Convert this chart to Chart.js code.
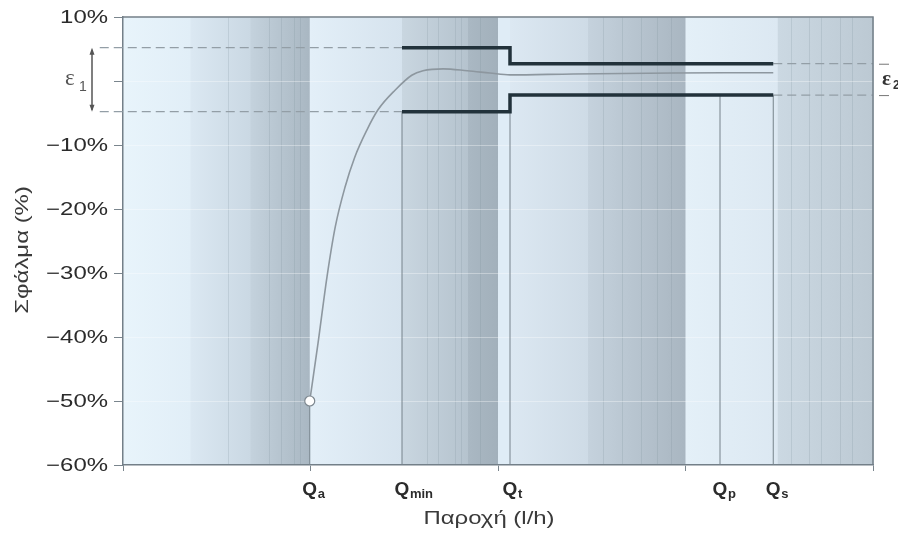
<!DOCTYPE html>
<html>
<head>
<meta charset="utf-8">
<script src="https://cdn.jsdelivr.net/npm/chart.js@4.4.0/dist/chart.umd.min.js"></script>
<style>
  body { margin: 0; background: #fff; }
  #wrap { width: 898px; height: 535px; }
</style>
</head>
<body>
<div id="wrap"><canvas id="errChart" width="898" height="535"></canvas></div>
<script>
// flow positions on a 0..100 axis (no real units on the picture)
var qNames = ['a', 'min', 't', 'p', 's'];
var qPos = [24.9, 37.2, 51.6, 79.6, 86.7];
// how high each thin vertical marker goes (%)
var qLineTop = [-50, -4.8, -2.2, -2.2, -2.2];

// error curve of the meter (%)
var curveX = [24.9, 26.0, 27.2, 28.3, 29.6, 30.9, 32.5, 34.0, 36.3, 38.5, 40.0, 42.7, 45.9, 48.9, 51.6, 60, 70, 80, 86.7];
var curveY = [-50, -41, -30.6, -22.8, -16.6, -11.9, -7.7, -4.5, -1.4, 0.9, 1.6, 1.9, 1.6, 1.25, 0.95, 1.1, 1.2, 1.3, 1.3];

// maximum permissible error limits
var upperX = [37.2, 51.6, 51.6, 86.7];
var upperY = [5.2, 5.2, 2.7, 2.7];
var lowerX = [37.2, 51.6, 51.6, 86.7];
var lowerY = [-4.8, -4.8, -2.2, -2.2];

// dashed guides for e1 (left) and e2 (right)
var dashLeftX = [-3.1, 37.2];
var dashRightX = [86.7, 100];

var yMin = -60, yMax = 10, yStep = 10;

function pts(xs, ys) {
    var out = [];
    for (var i = 0; i < xs.length; i++) out.push({x: xs[i], y: ys[i]});
    return out;
}

var datasets = [];
datasets.push({
    label: 'curve',
    data: pts(curveX, curveY),
    borderColor: '#8d979f',
    borderWidth: 1.6,
    cubicInterpolationMode: 'monotone',
    pointRadius: function(c) { return c.dataIndex === 0 ? 5 : 0; },
    pointBackgroundColor: '#ffffff',
    pointBorderColor: '#7d878f',
    pointBorderWidth: 1.2
});
datasets.push({ label: 'upper', data: pts(upperX, upperY), borderColor: '#22323b', borderWidth: 3.5, pointRadius: 0 });
datasets.push({ label: 'lower', data: pts(lowerX, lowerY), borderColor: '#22323b', borderWidth: 3.5, pointRadius: 0 });
var dashStyle = { borderColor: '#939ea6', borderWidth: 1.2, borderDash: [9, 5], pointRadius: 0, clip: false };
datasets.push(Object.assign({ label: 'd1', data: pts(dashLeftX, [upperY[0], upperY[0]]) }, dashStyle));
datasets.push(Object.assign({ label: 'd2', data: pts(dashLeftX, [lowerY[0], lowerY[0]]) }, dashStyle));
datasets.push(Object.assign({ label: 'd3', data: pts(dashRightX, [upperY[3], upperY[3]]) }, dashStyle));
datasets.push(Object.assign({ label: 'd4', data: pts(dashRightX, [lowerY[3], lowerY[3]]) }, dashStyle));
for (var k = 0; k < qPos.length; k++) {
    datasets.push({
        label: 'q' + k,
        data: [{x: qPos[k], y: yMin}, {x: qPos[k], y: qLineTop[k]}],
        borderColor: '#76828b',
        borderWidth: 1,
        pointRadius: 0
    });
}

// background bands, in x axis units: [from, to, colour left, colour right]
var bands = [
    [0, 9, '#e8f4fb', '#e1eef7'],
    [9, 17, '#dbe8f2', '#cad8e3'],
    [17, 24.9, '#c4d2dd', '#a9b7c2'],
    [24.9, 37.2, '#e3eff8', '#d6e3ee'],
    [37.2, 46, '#c9d6e0', '#b5c3ce'],
    [46, 50, '#aab8c3', '#a2b0bb'],
    [50, 51.6, '#dfecf6', '#dfecf6'],
    [51.6, 62, '#dce8f2', '#cedbe6'],
    [62, 75, '#c5d2dd', '#a9b6c1'],
    [75, 87.3, '#e4f0f8', '#dce8f2'],
    [87.3, 100, '#cbd8e2', '#bcc9d3']
];
var streaks = [14, 19.5, 21, 22.8, 23.6, 40.5, 42, 44.3, 45.1, 47.6, 64, 66.5, 69, 71.2, 73, 89, 91.5, 93, 95.6, 97.2];

// the scanned lettering is wider than a normal sans, so stretch it a bit
var stretch = 1.33;

function wideText(ctx, txt, x, y, align) {
    ctx.save();
    ctx.translate(x, y);
    ctx.scale(stretch, 1);
    ctx.textAlign = align;
    ctx.fillText(txt, 0, 0);
    ctx.restore();
}

var drawPlugin = {
    id: 'drawPlugin',
    beforeDraw: function(chart) {
        var ctx = chart.ctx, a = chart.chartArea, xs = chart.scales.x;
        ctx.save();
        bands.forEach(function(b) {
            var x0 = xs.getPixelForValue(b[0]), x1 = xs.getPixelForValue(b[1]);
            var g = ctx.createLinearGradient(x0, 0, x1, 0);
            g.addColorStop(0, b[2]);
            g.addColorStop(1, b[3]);
            ctx.fillStyle = g;
            ctx.fillRect(x0, a.top, x1 - x0 + 0.5, a.bottom - a.top);
        });
        ctx.strokeStyle = 'rgba(120,138,152,0.2)';
        ctx.lineWidth = 1;
        streaks.forEach(function(s) {
            var x = Math.round(xs.getPixelForValue(s)) + 0.5;
            ctx.beginPath();
            ctx.moveTo(x, a.top);
            ctx.lineTo(x, a.bottom);
            ctx.stroke();
        });
        ctx.restore();
    },
    afterDraw: function(chart) {
        var ctx = chart.ctx, a = chart.chartArea, xs = chart.scales.x, ys = chart.scales.y;
        ctx.save();
        // top and right frame
        ctx.strokeStyle = '#737f88';
        ctx.lineWidth = 1.5;
        ctx.beginPath();
        ctx.moveTo(a.left, a.top);
        ctx.lineTo(a.right, a.top);
        ctx.lineTo(a.right, a.bottom);
        ctx.stroke();

        // y tick labels
        ctx.fillStyle = '#2b2b2b';
        ctx.font = '18px "Liberation Sans", Arial, sans-serif';
        ctx.textBaseline = 'middle';
        ys.ticks.forEach(function(t) {
            if (t.value === 0) return;
            var lab = (t.value < 0 ? '\u2212' : '') + Math.abs(t.value) + '%';
            wideText(ctx, lab, 108, ys.getPixelForValue(t.value) + 1, 'right');
        });

        // x labels Q with subscripts
        ctx.textBaseline = 'alphabetic';
        for (var i = 0; i < qPos.length; i++) {
            var px = xs.getPixelForValue(qPos[i]);
            ctx.font = 'bold 19px "Liberation Sans", Arial, sans-serif';
            ctx.textAlign = 'center';
            ctx.fillText('Q', px, a.bottom + 30);
            var w = ctx.measureText('Q').width;
            ctx.font = 'bold 13px "Liberation Sans", Arial, sans-serif';
            ctx.textAlign = 'left';
            ctx.fillText(qNames[i], px + w / 2 + 0.5, a.bottom + 33);
        }

        // axis titles
        ctx.fillStyle = '#3a3a3a';
        ctx.font = '18px "Liberation Sans", Arial, sans-serif';
        wideText(ctx, 'Παροχή (l/h)', xs.getPixelForValue(48.8), a.bottom + 59, 'center');
        ctx.save();
        ctx.translate(28, ys.getPixelForValue(-26.4));
        ctx.rotate(-Math.PI / 2);
        wideText(ctx, 'Σφάλμα (%)', 0, 0, 'center');
        ctx.restore();

        // e1 bracket on the left
        var yt = ys.getPixelForValue(upperY[0]), yb = ys.getPixelForValue(lowerY[0]);
        ctx.strokeStyle = '#555';
        ctx.fillStyle = '#555';
        ctx.lineWidth = 1.5;
        ctx.beginPath();
        ctx.moveTo(92, yt + 2);
        ctx.lineTo(92, yb - 2);
        ctx.stroke();
        ctx.beginPath();
        ctx.moveTo(92, yt); ctx.lineTo(89.5, yt + 7); ctx.lineTo(94.5, yt + 7); ctx.closePath();
        ctx.moveTo(92, yb); ctx.lineTo(89.5, yb - 7); ctx.lineTo(94.5, yb - 7); ctx.closePath();
        ctx.fill();
        ctx.textAlign = 'left';
        ctx.font = '23px "Liberation Serif", serif';
        ctx.fillText('ε', 65, (yt + yb) / 2 + 5);
        ctx.font = '14px "Liberation Sans", sans-serif';
        ctx.fillText('1', 79, (yt + yb) / 2 + 11);

        // e2 mark on the right
        var yt2 = ys.getPixelForValue(upperY[3]), yb2 = ys.getPixelForValue(lowerY[3]);
        ctx.strokeStyle = '#777';
        ctx.lineWidth = 1;
        ctx.beginPath();
        ctx.moveTo(879, yt2 + 0.5); ctx.lineTo(889, yt2 + 0.5);
        ctx.moveTo(879, yb2 + 0.5); ctx.lineTo(889, yb2 + 0.5);
        ctx.stroke();
        ctx.fillStyle = '#333';
        ctx.font = 'bold 21px "Liberation Serif", serif';
        ctx.fillText('ε', 882, (yt2 + yb2) / 2 + 6);
        ctx.font = 'bold 12px "Liberation Sans", sans-serif';
        ctx.fillText('2', 893, (yt2 + yb2) / 2 + 10);
        ctx.restore();
    }
};

var ctx = document.getElementById('errChart').getContext('2d');
var chart = new Chart(ctx, {
    type: 'line',
    data: { datasets: datasets },
    options: {
        responsive: false,
        animation: false,
        layout: { padding: { top: 17, right: 25, left: 0, bottom: 0 } },
        plugins: { legend: { display: false }, tooltip: { enabled: false } },
        scales: {
            x: {
                type: 'linear',
                min: 0,
                max: 100,
                ticks: { stepSize: 25, display: false },
                grid: { drawOnChartArea: false, tickLength: 6, tickColor: '#7a858d' },
                border: { color: '#737f88', width: 1.5 },
                afterFit: function(s) { s.height = 70; }
            },
            y: {
                min: yMin,
                max: yMax,
                ticks: { stepSize: yStep, display: false },
                grid: { color: 'rgba(255,255,255,0.35)', tickLength: 9, tickColor: '#7a858d' },
                border: { color: '#737f88', width: 1.5 },
                afterFit: function(s) { s.width = 123; }
            }
        }
    },
    plugins: [drawPlugin]
});
</script>
</body>
</html>
